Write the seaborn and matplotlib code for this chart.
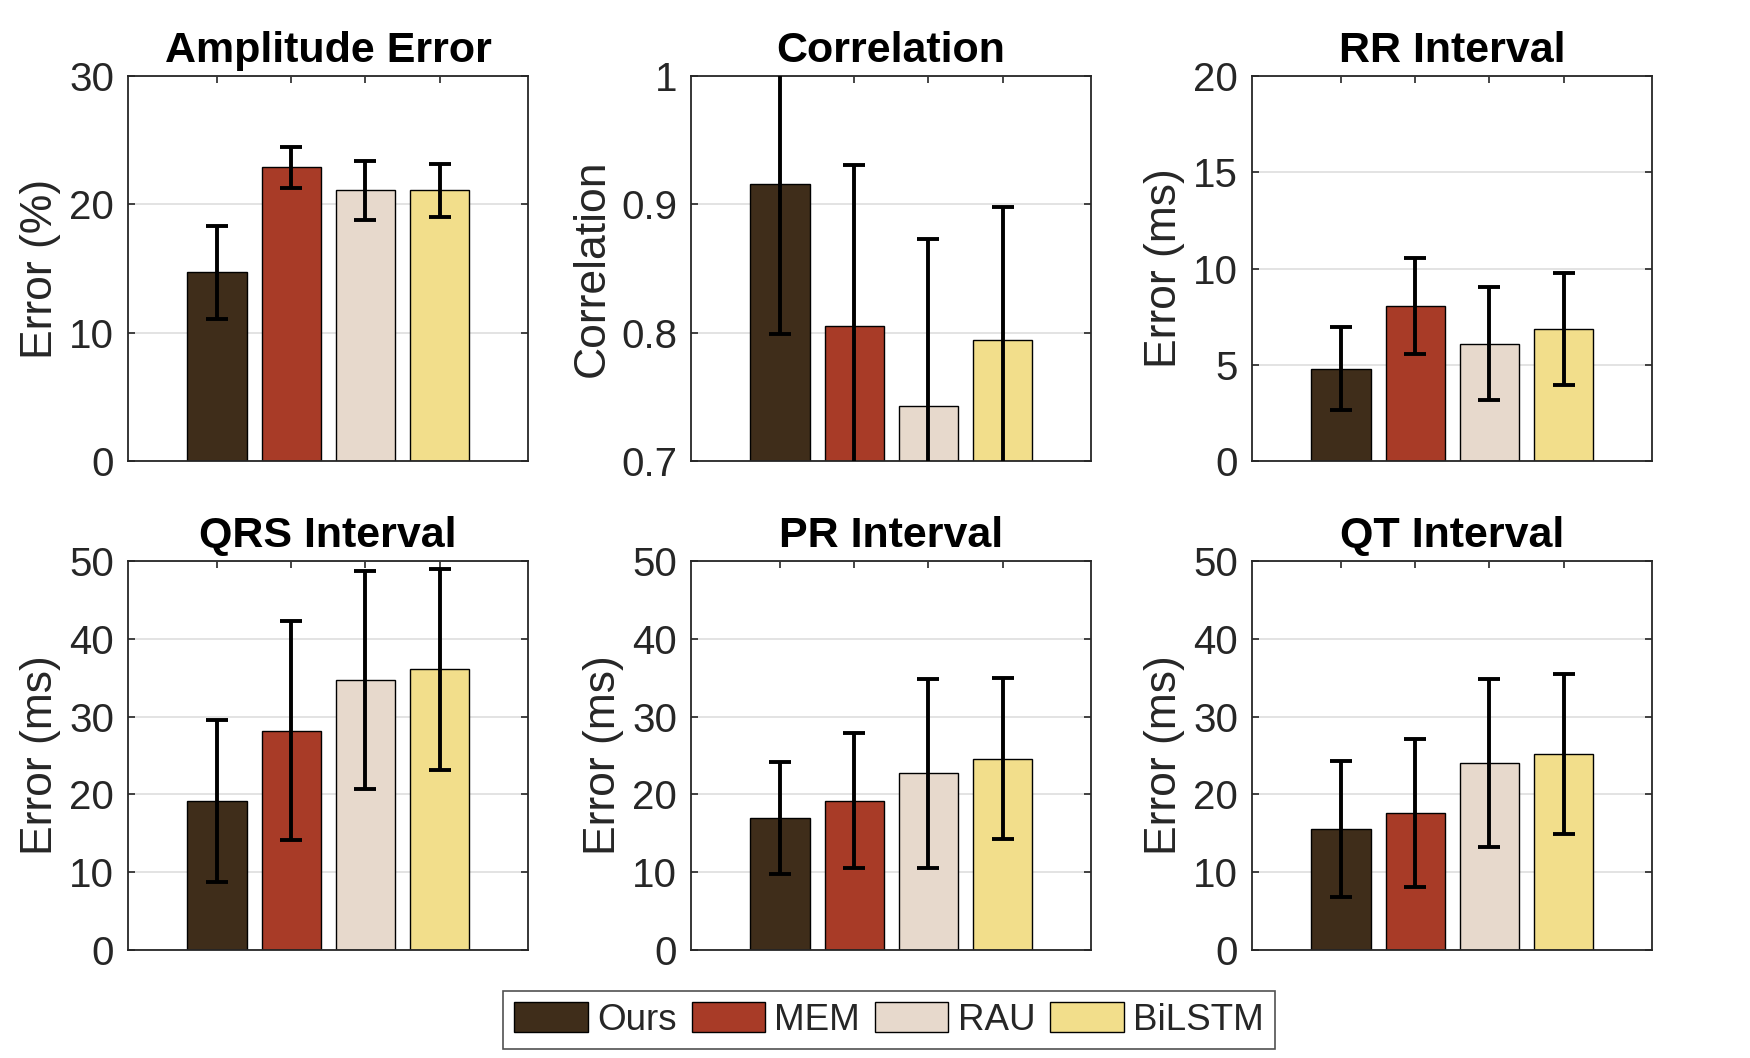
import matplotlib
matplotlib.use('Agg')

import pandas as pd
import numpy as np
import matplotlib.pyplot as plt
import seaborn as sns
from matplotlib.patches import Patch

sns.set_theme(style="white")
plt.rcParams['font.family'] = ['Liberation Sans', 'DejaVu Sans']

methods = ["Ours", "MEM", "RAU", "BiLSTM"]
colors = ["#3f2d1a", "#a83b27", "#e7d9cc", "#f2de8b"]

amp_mean = [14.7, 22.9, 21.1, 21.1]
amp_std = [3.6, 1.6, 2.3, 2.05]
corr_mean = [0.916, 0.805, 0.743, 0.794]
corr_std = [0.117, 0.126, 0.130, 0.104]
rr_mean = [4.8, 8.05, 6.1, 6.85]
rr_std = [2.15, 2.5, 2.95, 2.9]
qrs_mean = [19.2, 28.2, 34.7, 36.1]
qrs_std = [10.4, 14.1, 14.0, 12.9]
pr_mean = [17.0, 19.2, 22.7, 24.6]
pr_std = [7.2, 8.7, 12.1, 10.3]
qt_mean = [15.6, 17.6, 24.0, 25.15]
qt_std = [8.75, 9.5, 10.8, 10.3]

titles = ["Amplitude Error", "Correlation", "RR Interval",
          "QRS Interval", "PR Interval", "QT Interval"]
ylabels = ["Error (%)", "Correlation", "Error (ms)",
           "Error (ms)", "Error (ms)", "Error (ms)"]
means = [amp_mean, corr_mean, rr_mean, qrs_mean, pr_mean, qt_mean]
stds = [amp_std, corr_std, rr_std, qrs_std, pr_std, qt_std]
ylims = [(0, 30), (0.7, 1), (0, 20), (0, 50), (0, 50), (0, 50)]
yticks = [[0, 10, 20, 30], [0.7, 0.8, 0.9, 1.0], [0, 5, 10, 15, 20],
          [0, 10, 20, 30, 40, 50], [0, 10, 20, 30, 40, 50], [0, 10, 20, 30, 40, 50]]
yticklabels = [None, ["0.7", "0.8", "0.9", "1"], None, None, None, None]

W, H = 1750, 1058
fig = plt.figure(figsize=(W / 100, H / 100), dpi=100)

col_left = [128, 691, 1252]
row_top = [76, 561]
row_bottom = [461, 950]
ax_w = 400

dark = "#262626"

for i in range(6):
    r, c = divmod(i, 3)
    ax = fig.add_axes([col_left[c] / W, 1 - row_bottom[r] / H,
                       ax_w / W, (row_bottom[r] - row_top[r]) / H])
    df = pd.DataFrame({"method": methods, "value": means[i], "std": stds[i]})
    sns.barplot(data=df, x="method", y="value", hue="method", palette=colors,
                saturation=1, width=0.8, edgecolor="black", linewidth=1,
                errorbar=None, legend=False, ax=ax, zorder=2)
    xs = [p.get_x() + p.get_width() / 2 for p in ax.patches]
    ax.errorbar(xs, df["value"], yerr=df["std"], fmt="none", ecolor="black",
                elinewidth=2.8, capsize=8, capthick=2.8, zorder=3)
    ax.set_xlim(-1.2, 4.19)
    ax.set_ylim(*ylims[i])
    ax.set_yticks(yticks[i])
    if yticklabels[i] is not None:
        ax.set_yticklabels(yticklabels[i])
    ax.set_xticks(range(4))
    ax.set_xticklabels([])
    ax.set_xlabel("")
    ax.set_ylabel(ylabels[i], fontsize=32, color=dark, labelpad=6)
    ax.set_title(titles[i], fontsize=31, fontweight="bold", color="black", pad=10)
    ax.yaxis.grid(True, color="#dedede", linewidth=1.2, zorder=0)
    ax.set_axisbelow(True)
    ax.tick_params(axis="y", direction="in", length=5, width=1.2, labelsize=29,
                   colors=dark, left=True, right=True, pad=10)
    ax.tick_params(axis="x", direction="in", length=5, width=1.2,
                   bottom=True, top=True, colors=dark)
    for s in ax.spines.values():
        s.set_color(dark)
        s.set_linewidth(1.3)

handles = [Patch(facecolor=col, edgecolor="black", linewidth=1) for col in colors]
leg = fig.legend(handles, methods, loc="center", bbox_to_anchor=(0.508, 0.036),
                 ncol=4, fontsize=26.5, frameon=True, fancybox=False,
                 edgecolor=dark, handlelength=2.0, handleheight=0.85,
                 handletextpad=0.25, columnspacing=0.4, borderpad=0.3)
leg.get_frame().set_linewidth(1.2)

fig.savefig("out.png", dpi=100, facecolor="white")
